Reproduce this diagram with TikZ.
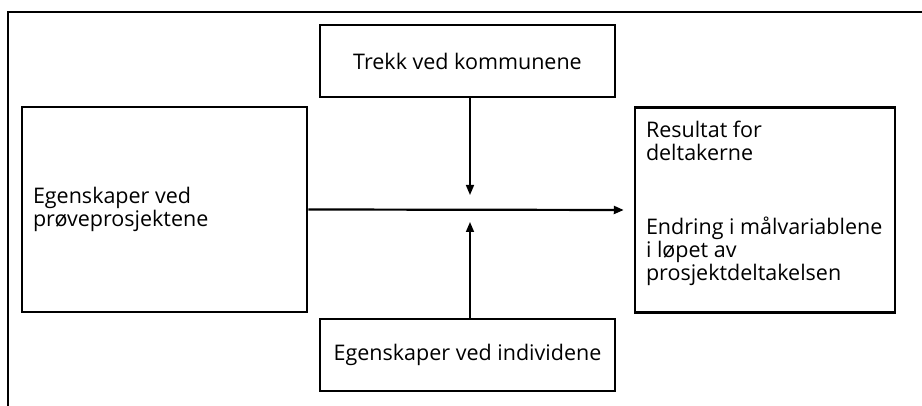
\documentclass[tikz,border=0pt]{standalone}
\usepackage{fontspec}
\setmainfont{Open Sans}
\usetikzlibrary{arrows.meta}
\begin{document}
\begin{tikzpicture}[x=1pt,y=-1pt,line join=miter,>={Triangle[length=10pt,width=8pt]}]
\tikzset{box text/.style={font=\fontsize{21.5}{23}\selectfont},
  thin box/.style={box text,draw,line width=1.2pt,minimum width=295pt,minimum height=72pt},
  thick box/.style={box text,draw,line width=2.5pt,minimum height=205pt,align=flush left}}
\useasboundingbox (0,0) rectangle (922,406);
\draw[line width=2.5pt] (8,406) |- (922,12);
\node[thin box] (kommune) at (467.5,61) {Trekk ved kommunene};
\node[thin box] (individ) at (467.5,355) {Egenskaper ved individene};
\node[thick box,minimum width=285pt,text width=263pt,inner sep=10pt] (prosjekt) at (164.5,209.5)
  {Egenskaper ved\\prøveprosjektene};
\node[thick box,minimum width=260pt,text width=238pt,inner xsep=10pt,inner ysep=8pt] (resultat) at (765,210)
  {Resultat for\\deltakerne\\[51pt]Endring i målvariablene\\i løpet av\\prosjektdeltakelsen\\[-4pt]\mbox{}};
\coordinate (mid) at (470,210);
% arrows
\draw[line width=2.2pt,->,shorten >=10pt] (prosjekt.east) -- (resultat.west);
\draw[line width=1.6pt,->,shorten >=15pt] (mid |- kommune.south) -- (mid);
\draw[line width=1.6pt,->,shorten >=12pt] (mid |- individ.north) -- (mid);
\end{tikzpicture}
\end{document}
